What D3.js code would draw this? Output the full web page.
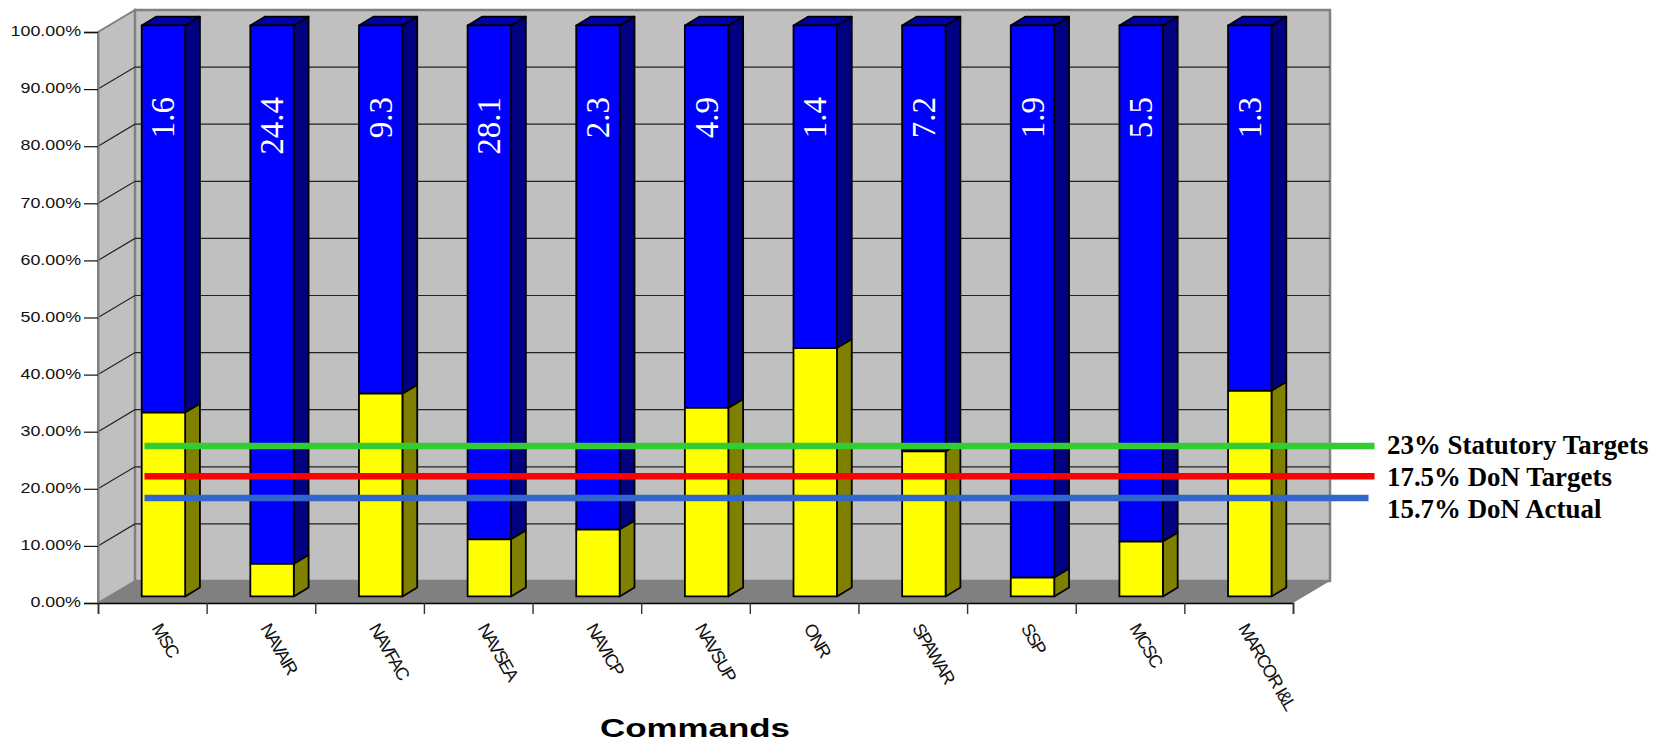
<!DOCTYPE html>
<html>
<head>
<meta charset="utf-8">
<script src="https://cdn.jsdelivr.net/npm/d3@7"></script>
<style>
  html, body { margin: 0; padding: 0; background: #fff; }
  svg { display: block; }
</style>
</head>
<body>
<svg id="chart" width="1654" height="742"></svg>
<script>
const commands = ["MSC", "NAVAIR", "NAVFAC", "NAVSEA", "NAVICP", "NAVSUP", "ONR", "SPAWAR", "SSP", "MCSC", "MARCOR I&L"];
const yellowShare = [32.2, 5.7, 35.5, 10, 11.7, 33, 43.5, 25.4, 3.3, 9.6, 36];
const barLabels = ["1.6", "24.4", "9.3", "28.1", "2.3", "4.9", "1.4", "7.2", "1.9", "5.5", "1.3"];
const yTicks = [0, 10, 20, 30, 40, 50, 60, 70, 80, 90, 100];
const refLabels = ["23% Statutory Targets", "17.5% DoN Targets", "15.7% DoN Actual"];
const refLevels = [27.5, 22.2, 18.4];
const refColors = ["#33cc33", "#ff0000", "#3366cc"];
const refEnds = [1374.5, 1374.5, 1368.5];
const refBaselines = [454, 486, 518];

const svg = d3.select("#chart");
const plotLeft = 98, plotRight = 1293, plotBottom = 603, plotTop = 32;
const depthX = 37, depthY = -22;

const x = d3.scaleBand().domain(commands).range([plotLeft, plotRight]).paddingInner(0.6).paddingOuter(0.3);
const xEdges = d3.scaleLinear().domain([0, commands.length]).range([plotLeft, plotRight]);
const y = d3.scaleLinear().domain([0, 100]).range([plotBottom, plotTop]);

// walls and floor
svg.append("path")
  .attr("d", `M${plotLeft},${plotBottom}L${plotLeft + depthX},${plotBottom + depthY}L${plotLeft + depthX},${plotTop + depthY}L${plotLeft},${plotTop}Z`)
  .attr("fill", "#c0c0c0").attr("stroke", "#808080").attr("stroke-width", 2);
svg.append("rect")
  .attr("x", plotLeft + depthX).attr("y", plotTop + depthY)
  .attr("width", plotRight - plotLeft).attr("height", plotBottom - plotTop)
  .attr("fill", "#c0c0c0").attr("stroke", "#808080").attr("stroke-width", 2.5);
svg.append("path")
  .attr("d", `M${plotLeft},${plotBottom}L${plotLeft + depthX},${plotBottom + depthY}L${plotRight + depthX},${plotBottom + depthY}L${plotRight},${plotBottom}Z`)
  .attr("fill", "#808080");

// gridlines run along the left wall then the back wall
yTicks.filter(d => d > 0 && d < 100).forEach(d => {
  svg.append("path")
    .attr("d", `M${plotLeft},${y(d)}L${plotLeft + depthX},${y(d) + depthY}L${plotRight + depthX},${y(d) + depthY}`)
    .attr("fill", "none").attr("stroke", "#222").attr("stroke-width", 1.2);
});

// bars, front edge sits 30% into the depth, back edge 70%
const frontX = depthX * 0.3, frontY = depthY * 0.3;
const sideX = depthX * 0.4, sideY = depthY * 0.4;

function drawBox(bx, w, y0, y1, front, side, lid) {
  const g = svg.append("g").attr("stroke", "#000").attr("stroke-width", 1.8).attr("stroke-linejoin", "round");
  g.append("path")
    .attr("d", `M${bx + w},${y0}L${bx + w + sideX},${y0 + sideY}L${bx + w + sideX},${y1 + sideY}L${bx + w},${y1}Z`)
    .attr("fill", side);
  if (lid) {
    g.append("path")
      .attr("d", `M${bx},${y1}L${bx + sideX},${y1 + sideY}L${bx + w + sideX},${y1 + sideY}L${bx + w},${y1}Z`)
      .attr("fill", lid);
  }
  g.append("rect")
    .attr("x", bx).attr("y", y1).attr("width", w).attr("height", y0 - y1)
    .attr("fill", front);
}

commands.forEach((c, i) => {
  const bx = x(c) + frontX;
  const w = x.bandwidth();
  drawBox(bx, w, y(yellowShare[i]) + frontY, y(100) + frontY, "#0000ff", "#000080", "#0000a8");
  drawBox(bx, w, y(0) + frontY, y(yellowShare[i]) + frontY, "#ffff00", "#808000", null);

  svg.append("text")
    .attr("transform", `translate(${bx + w / 2 + 11},97) rotate(-90)`)
    .attr("text-anchor", "end")
    .attr("font-family", "Liberation Serif")
    .attr("font-size", 33)
    .attr("fill", "#fff")
    .text(barLabels[i]);

  svg.append("text")
    .attr("transform", `translate(${x(c) + x.bandwidth() / 2 - 1},628) rotate(60)`)
    .attr("font-family", "Liberation Sans")
    .attr("font-size", 18)
    .attr("letter-spacing", -1.6)
    .attr("fill", "#111")
    .text(c);
});

// axes
const yAxis = svg.append("g")
  .attr("transform", `translate(${plotLeft},0)`)
  .call(d3.axisLeft(y).tickValues(yTicks).tickSize(14).tickPadding(3).tickFormat(d => d.toFixed(2) + "%"));
yAxis.select(".domain").attr("stroke", "#808080").attr("stroke-width", 2);
yAxis.selectAll("line").attr("stroke", "#111").attr("stroke-width", 1.2);
yAxis.selectAll("text")
  .attr("font-family", "Liberation Sans").attr("font-size", 15).attr("fill", "#111")
  .attr("dy", "0.25em")
  .attr("lengthAdjust", "spacingAndGlyphs")
  .attr("textLength", function () { return this.getComputedTextLength() * 1.19; });

const xAxis = svg.append("g")
  .attr("transform", `translate(0,${plotBottom})`)
  .call(d3.axisBottom(xEdges).ticks(commands.length).tickSize(11).tickFormat(""));
xAxis.select(".domain").attr("stroke", "#000").attr("stroke-width", 1.5);
xAxis.selectAll("line").attr("stroke", "#333").attr("stroke-width", 1.4);

// reference lines drawn over the bars
refLabels.forEach((label, i) => {
  svg.append("line")
    .attr("x1", 144.5).attr("x2", refEnds[i])
    .attr("y1", y(refLevels[i])).attr("y2", y(refLevels[i]))
    .attr("stroke", refColors[i]).attr("stroke-width", 6.5);
  svg.append("text")
    .attr("x", 1387).attr("y", refBaselines[i])
    .attr("font-family", "Liberation Serif").attr("font-weight", "bold")
    .attr("font-size", 26.9).attr("fill", "#000")
    .text(label);
});

svg.append("text")
  .attr("x", 600).attr("y", 737)
  .attr("font-family", "Liberation Sans").attr("font-weight", "bold")
  .attr("font-size", 26).attr("fill", "#000")
  .attr("textLength", 190).attr("lengthAdjust", "spacingAndGlyphs")
  .text("Commands");
</script>
</body>
</html>
